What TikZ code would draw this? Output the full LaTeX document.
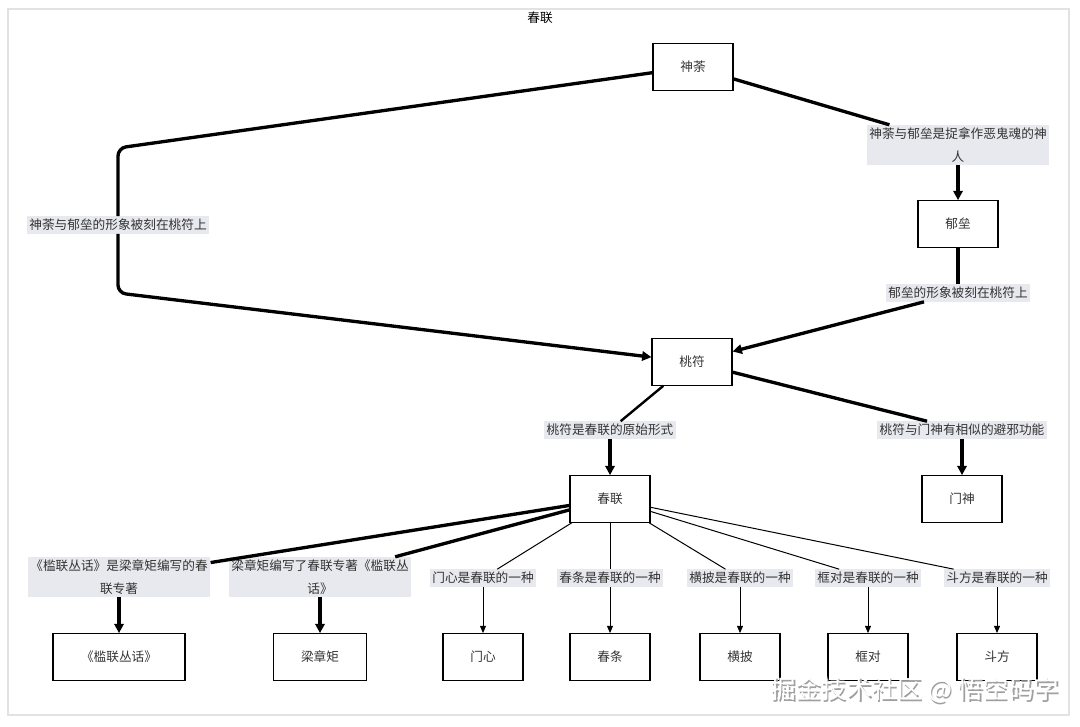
\documentclass[tikz,border=0pt]{standalone}
\usepackage{fontspec}
\setmainfont{Noto Sans CJK SC}
\usetikzlibrary{arrows.meta}
\definecolor{ink}{HTML}{333333}
\definecolor{tagfill}{HTML}{E8E9EE}
\definecolor{framegray}{HTML}{E2E2E2}
\begin{document}
\begin{tikzpicture}[x=0.75pt,y=-0.75pt,
  box/.style={draw,line width=0.8pt,minimum width=60pt,minimum height=35pt,text=ink,font=\fontsize{9.5}{11}\selectfont},
  tag/.style={fill=tagfill,text=ink,inner sep=2pt,align=center,font=\fontsize{9.5}{17}\selectfont},
  bold/.style={line width=2.5pt},
  mid/.style={line width=1.8pt},
  slim/.style={line width=0.75pt},
  tip/.style={-{Triangle[length=7pt,width=7pt]}},
  smalltip/.style={-{Triangle[length=5.5pt,width=4.5pt]}}]
  \useasboundingbox (0,0) rectangle (1080,726);
  \draw[framegray,line width=0.8pt] (8,9) rectangle (1069,715);
  \node[font=\fontsize{9.5}{11}\selectfont] (title) at (540,18) {春联};

  \node[box] (shentu) at (693,67) {神荼};
  \node[box] (yulei) at (958,224) {郁垒};
  \node[box] (taofu) at (692,362) {桃符};
  \node[box] (chunlian) at (610,499) {春联};
  \node[box] (menshen) at (962,499) {门神};
  \node[box,minimum width=99pt] (kanlian) at (119,657) {《槛联丛话》};
  \node[box,minimum width=70pt] (liang) at (320,657) {梁章矩};
  \node[box] (menxin) at (483,657) {门心};
  \node[box] (chuntiao) at (610,657) {春条};
  \node[box] (hengpi) at (740,657) {横披};
  \node[box] (kuangdui) at (868,657) {框对};
  \node[box] (doufang) at (997,657) {斗方};

  \node[tag] (catch) at (958,145) {神荼与郁垒是捉拿作恶鬼魂的神\\人};
  \node[tag] (carved) at (118,225) {神荼与郁垒的形象被刻在桃符上};
  \node[tag] (yucarved) at (958,293) {郁垒的形象被刻在桃符上};
  \node[tag] (origin) at (610,430) {桃符是春联的原始形式};
  \node[tag] (ward) at (962,430) {桃符与门神有相似的避邪功能};
  \node[tag] (book) at (119,577) {《槛联丛话》是梁章矩编写的春\\联专著};
  \node[tag] (wrote) at (320,577) {梁章矩编写了春联专著《槛联丛\\话》};
  \node[tag] (kind1) at (483,578) {门心是春联的一种};
  \node[tag] (kind2) at (610,578) {春条是春联的一种};
  \node[tag] (kind3) at (740,578) {横披是春联的一种};
  \node[tag] (kind4) at (868,578) {框对是春联的一种};
  \node[tag] (kind5) at (997,578) {斗方是春联的一种};

  \coordinate (bendtop) at (118,148);
  \coordinate (bendlow) at (118,293);

  \draw[bold] (shentu) -- (catch);
  \draw[bold,tip] (catch) -- (yulei);
  \draw[bold,rounded corners=6pt] (shentu) -- (bendtop) -- (carved);
  \draw[bold,tip,rounded corners=6pt] (carved) -- (bendlow) -- (taofu);
  \draw[bold] (yulei) -- (yucarved);
  \draw[bold,tip] (yucarved) -- (taofu);
  \draw[mid] (taofu) -- (origin);
  \draw[bold,tip] (origin) -- (chunlian);
  \draw[bold] (taofu) -- (ward);
  \draw[bold,tip] (ward) -- (menshen);

  \draw[bold] (chunlian) -- (book);
  \draw[bold,tip] (book) -- (kanlian);
  \draw[bold] (chunlian) -- (wrote);
  \draw[bold,tip] (wrote) -- (liang);
  \draw[slim] (chunlian) -- (kind1);
  \draw[slim,smalltip] (kind1) -- (menxin);
  \draw[slim] (chunlian) -- (kind2);
  \draw[slim,smalltip] (kind2) -- (chuntiao);
  \draw[slim] (chunlian) -- (kind3);
  \draw[slim,smalltip] (kind3) -- (hengpi);
  \draw[slim] (chunlian) -- (kind4);
  \draw[slim,smalltip] (kind4) -- (kuangdui);
  \draw[slim] (chunlian) -- (kind5);
  \draw[slim,smalltip] (kind5) -- (doufang);

  \node[font=\fontsize{19}{19}\selectfont,text=gray!75] (markshade) at (916.5,691.5) {掘金技术社区 @ 悟空码字};
  \node[font=\fontsize{19}{19}\selectfont,text=white] (mark) at (915,690) {掘金技术社区 @ 悟空码字};
\end{tikzpicture}
\end{document}
